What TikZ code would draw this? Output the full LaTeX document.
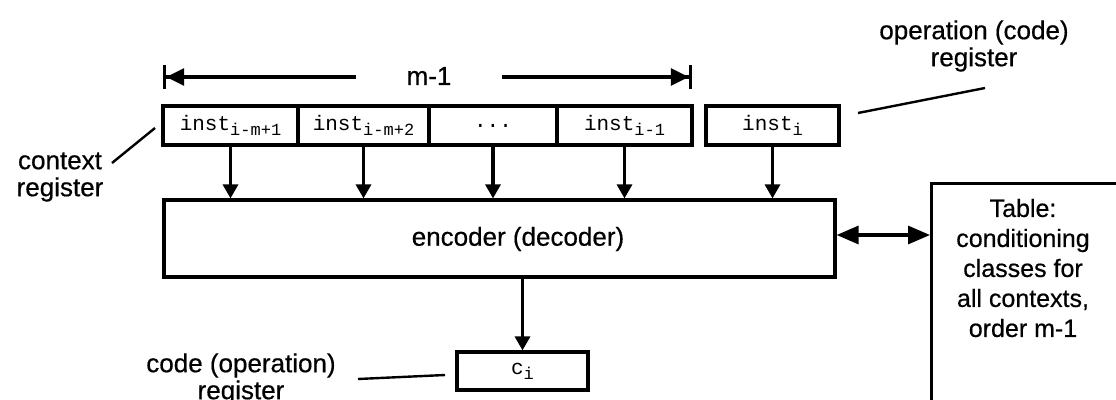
\documentclass[tikz,border=0pt]{standalone}
\usepackage{fontspec}
\setmainfont{Liberation Sans}[FakeBold=0.5]
\setmonofont{Liberation Mono}
\usetikzlibrary{arrows.meta}
% register contents: monospaced name with a lowered, smaller index
\newcommand\regname[2]{#1\raisebox{-5pt}{\fontsize{17}{17}\selectfont #2}}

\begin{document}
\begin{tikzpicture}[x=1pt,y=-1pt,
  lw/.style={line width=3.2pt},
  reg/.style={draw, lw, minimum height=39pt, inner sep=0pt,
    font=\ttfamily\fontsize{21}{21}\selectfont},
  lbl/.style={font=\fontsize{26}{27}\selectfont, align=center, inner sep=0pt},
  leader/.style={line width=2.4pt},
  feed/.style={lw, -{Triangle[length=14pt,width=15pt]}},
  bigtip/.style={lw, {Triangle[length=22pt,width=18pt]}-{Triangle[length=22pt,width=18pt]}},
  span/.style={lw, -{Triangle[length=18pt,width=17pt]Bar[width=24pt,line width=3.2pt]}}
]
\useasboundingbox (0,0) rectangle (1116,399);

% span of the context register
\node[lbl, minimum width=146pt] (mlen) at (429,76) {m-1};
\coordinate (mL) at (163,77);
\coordinate (mR) at (692,77);
\draw[span] (mlen.west |- mL) -- (mL);
\draw[span] (mlen.east |- mR) -- (mR);

% context register cells
\node[reg, minimum width=135pt] (r1) at (230.5,125.5) {\regname{inst}{i-m+1}};
\node[reg, minimum width=131pt] (r2) at (363.5,125.5) {\regname{inst}{i-m+2}};
\node[reg, minimum width=128pt] (r3) at (493,125.5) {...};
\node[reg, minimum width=135pt] (r4) at (624.5,125.5) {\regname{inst}{i-1}};

% operation register
\node[reg, minimum width=133pt] (op) at (772.5,125.5) {\regname{inst}{i}};

% encoder / decoder
\node[draw, lw, minimum width=671pt, minimum height=77pt, inner sep=0pt] (enc) at (499.5,238.5) {};
\node[lbl] (enclbl) at (518,239) {encoder (decoder)};

% code register
\node[reg, minimum width=131pt, minimum height=38pt] (ci) at (522.5,371) {\regname{c}{i}};

% table of conditioning classes
\node[draw, lw, anchor=north west, minimum width=190pt, minimum height=225pt,
  inner sep=0pt] (table) at (930,182) {};
\node[lbl, font=\fontsize{25}{30}\selectfont] (tabtxt) at (1023,268)
  {Table:\\conditioning\\classes for\\all contexts,\\order m-1};

% data flow
\foreach \r in {r1,r2,r3,r4,op}
  \draw[feed] (\r.south) -- (\r.south |- enc.north);
\draw[feed] (enc.south -| ci.north) -- (ci.north);
\coordinate (dj) at (880,235);
\draw[bigtip] (enc.east |- dj) -- (table.west |- dj);

% labels with leader lines
\node[lbl] (ctxlbl) at (60,177) {context\\register};
\coordinate (ctxA) at (112,163);
\coordinate (ctxB) at (155,128);
\draw[leader] (ctxA) -- (ctxB);

\node[lbl] (oplbl) at (974,46) {operation (code)\\register};
\coordinate (opA) at (858,113);
\coordinate (opB) at (985,88);
\draw[leader] (opA) -- (opB);

\node[lbl] (cdlbl) at (241,379) {code (operation)\\register};
\coordinate (cdA) at (358,379);
\coordinate (cdB) at (445,375);
\draw[leader] (cdA) -- (cdB);
\end{tikzpicture}
\end{document}
